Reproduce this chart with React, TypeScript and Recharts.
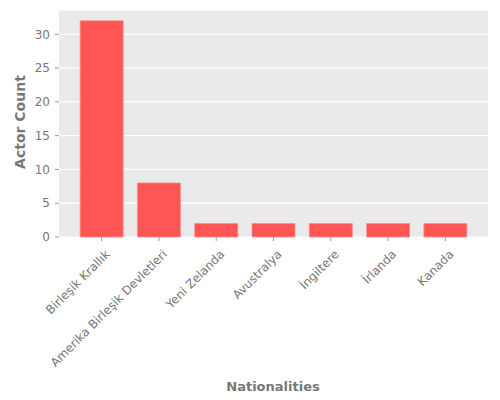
import { BarChart, Bar, XAxis, YAxis, CartesianGrid } from 'recharts';

const nationalities = [
  'Birleşik Krallık',
  'Amerika Birleşik Devletleri',
  'Yeni Zelanda',
  'Avustralya',
  'İngiltere',
  'İrlanda',
  'Kanada',
];
const actorCounts = [32, 8, 2, 2, 2, 2, 2];
const yTicks = [0, 5, 10, 15, 20, 25, 30];

const data = nationalities.map((name, i) => ({ name, count: actorCounts[i] }));

const FONT = '"DejaVu Sans", sans-serif';

// rotated category label, right end hooked just past the tick
function RotatedTick({ x, y, payload }: any) {
  return (
    <g transform={`translate(${x + 9},${y + 12})`}>
      <text
        x={0}
        y={0}
        textAnchor="end"
        transform="rotate(-45)"
        fill="#777"
        fontSize={12}
        fontFamily={FONT}
      >
        {payload.value}
      </text>
    </g>
  );
}

export default function App() {
  return (
    <div style={{ position: 'absolute', left: 0, top: 0, width: 500, height: 400, background: '#fff' }}>
      <BarChart
        width={500}
        height={400}
        data={data}
        margin={{ top: 10, right: 12, bottom: 0, left: 0 }}
        barCategoryGap="12.5%"
      >
        <CartesianGrid vertical={false} stroke="#fff" strokeWidth={1.2} fill="#EAEAEA" />
        <XAxis
          dataKey="name"
          interval={0}
          height={163}
          padding={{ left: 14, right: 14 }}
          axisLine={false}
          tickLine={{ stroke: '#999' }}
          tickSize={4}
          tick={<RotatedTick />}
          label={{
            content: () => (
              <text x={273} y={391} textAnchor="middle" fill="#777" fontSize={13} fontWeight="bold" fontFamily={FONT}>
                Nationalities
              </text>
            ),
          }}
        />
        <YAxis
          width={59}
          domain={[0, 33.6]}
          ticks={yTicks}
          axisLine={false}
          tickLine={{ stroke: '#999' }}
          tickSize={4}
          tickMargin={5}
          tick={{ fill: '#777', fontSize: 12, fontFamily: FONT }}
          label={{
            content: () => (
              <text
                x={0}
                y={0}
                transform="translate(25,122) rotate(-90)"
                textAnchor="middle"
                fill="#777"
                fontSize={14}
                fontWeight="bold"
                fontFamily={FONT}
              >
                Actor Count
              </text>
            ),
          }}
        />
        <Bar dataKey="count" fill="#FF5555" stroke="#FF8C8C" strokeWidth={0.8} isAnimationActive={false} />
      </BarChart>
    </div>
  );
}
